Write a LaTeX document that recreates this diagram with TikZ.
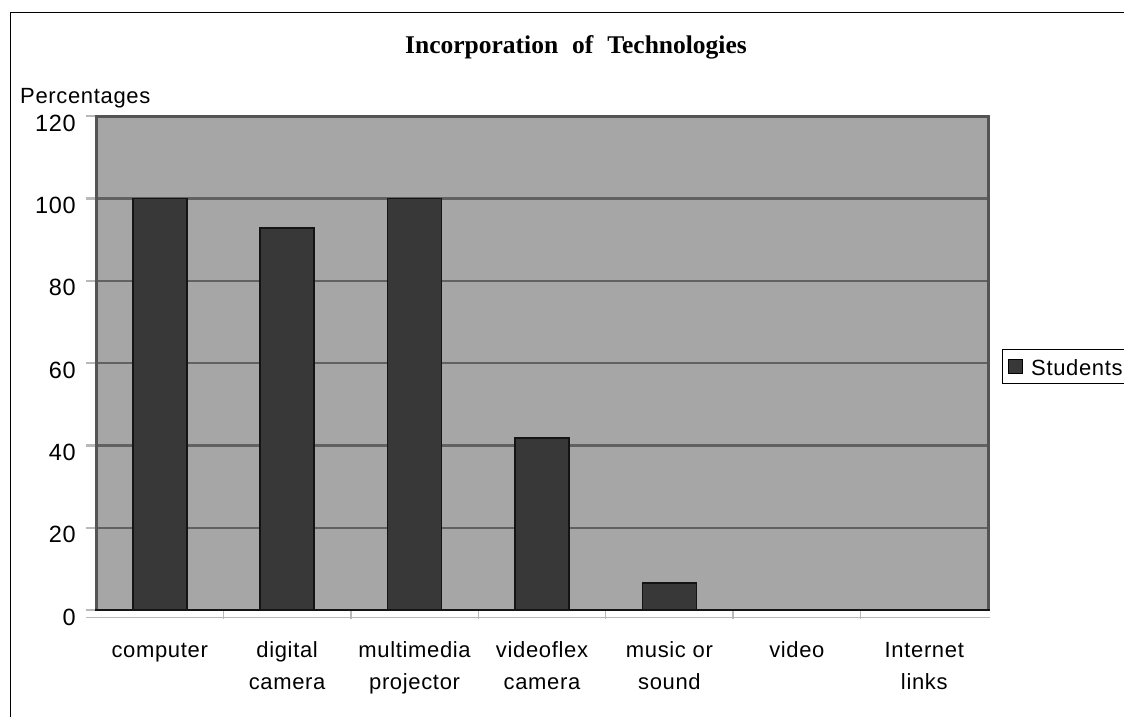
\documentclass[tikz,border=0pt]{standalone}
\usepackage{fontspec}
\setmainfont{Liberation Serif}
\setsansfont[LetterSpace=3]{Liberation Sans}
\definecolor{plotbg}{gray}{0.65}
\definecolor{gridc}{gray}{0.38}
\definecolor{framec}{gray}{0.33}
\definecolor{barfill}{gray}{0.22}
\definecolor{baredge}{gray}{0.08}
\definecolor{tickc}{gray}{0.72}
\tikzset{
  lbl/.style={font=\sffamily\fontsize{22}{26}\selectfont, inner sep=0pt},
  ylbl/.style={font=\sffamily\fontsize{23.5}{26}\selectfont, inner sep=0pt, anchor=base east},
  catlbl/.style={lbl, anchor=base},
  bar/.style={fill=barfill, draw=baredge, line width=1.6pt},
  gridline/.style={draw=gridc, line width=2.2pt},
  ytick/.style={draw=tickc, line width=2.2pt},
}
\begin{document}
\begin{tikzpicture}[x=1pt, y=-1pt]
  \useasboundingbox (0,0) rectangle (1124,717);
  \fill[white] (0,0) rectangle (1124,717);

  % outer frame (left and top edges)
  \draw[line width=1.2pt, black] (10.5,717) -- (10.5,12.5) -- (1124,12.5);

  % title
  \node[font=\bfseries\fontsize{25.5}{30}\selectfont, inner sep=0pt, anchor=base]
    (title) at (576,54) {Incorporation\hspace{14pt}of\hspace{14pt}Technologies};

  % axis caption
  \node[lbl, anchor=base west] (ycap) at (20,103) {Percentages};

  % plot area
  \def\xl{96}\def\xr{988}\def\yb{610}\def\yt{116}
  \fill[plotbg] (\xl,\yt) rectangle (\xr,\yb);

  % horizontal grid lines, ticks and labels
  \foreach \v in {0,20,...,120} {
    \pgfmathsetmacro{\yy}{\yb - \v*4.115}
    \draw[ytick] (86,\yy) -- (\xl,\yy);
    \ifnum\v>0 \draw[gridline] (\xl,\yy) -- (\xr,\yy); \fi
    \node[ylbl] (y\v) at (76,\yy+15) {\v};
  }

  % plot border
  \draw[draw=framec, line width=3pt] (\xl,\yb) -- (\xl,\yt) -- (\xr,\yt) -- (\xr,\yb);

  % bars
  \foreach \v [count=\i] in {100,92.8,100,41.8,6.6} {
    \pgfmathsetmacro{\xc}{\xl + (\i-0.5)*127.43}
    \pgfmathsetmacro{\ytop}{\yb - \v*4.115}
    \draw[bar] (\xc-27,\yb) rectangle (\xc+27,\ytop);
  }

  % category axis
  \draw[draw=tickc, line width=1.2pt] (86,617.5) -- (990,617.5);
  \foreach \i in {1,...,6} {
    \pgfmathsetmacro{\xt}{\xl + \i*127.43}
    \draw[draw=tickc, line width=1.5pt] (\xt,611) -- (\xt,619);
  }
  \draw[draw=baredge, line width=2.4pt] (\xl-1.5,\yb) -- (\xr+1.5,\yb);

  % category labels
  \foreach \top/\bot [count=\i] in {computer/,digital/camera,multimedia/projector,videoflex/camera,music or/sound,video/,Internet/links} {
    \pgfmathsetmacro{\xc}{\xl + (\i-0.5)*127.43}
    \node[catlbl] (c\i a) at (\xc,657) {\top};
    \node[catlbl] (c\i b) at (\xc,689) {\bot};
  }

  % legend
  \draw[line width=1pt, black] (1002,349) rectangle (1130,383);
  \node[draw=black, fill=barfill, line width=1pt, minimum size=14pt, inner sep=0pt] (key) at (1015.5,366) {};
  \node[lbl, anchor=base west] (students) at (1031,375) {Students};
\end{tikzpicture}
\end{document}
